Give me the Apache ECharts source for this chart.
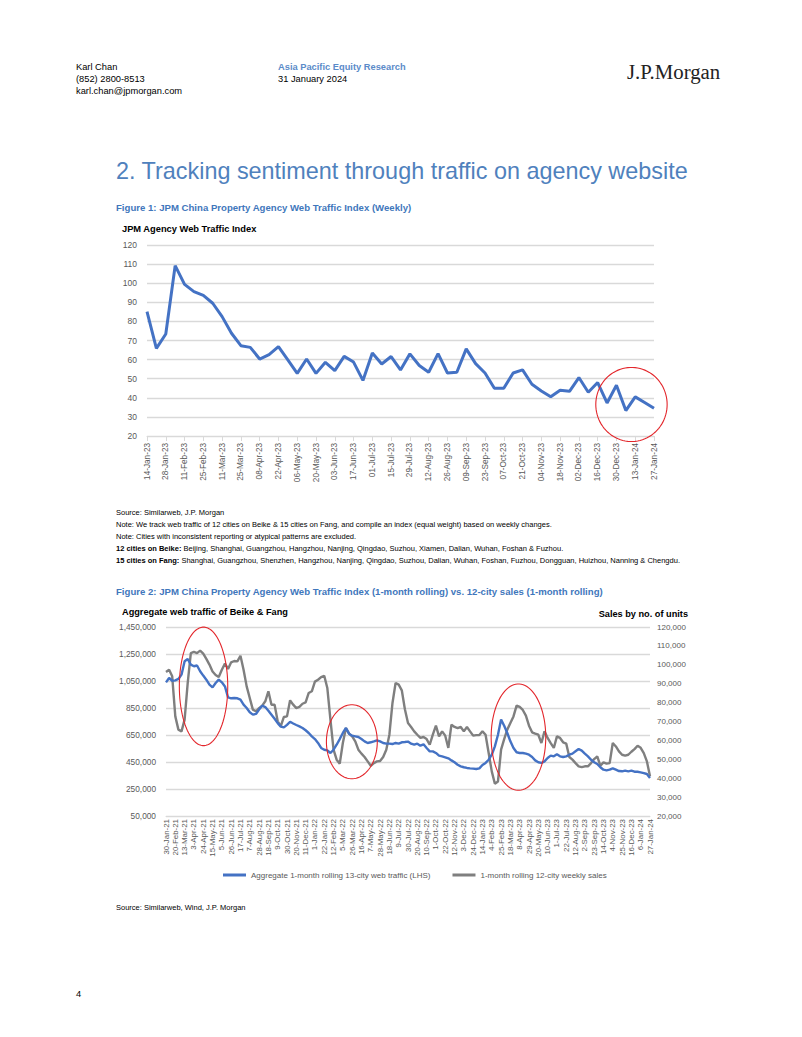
<!DOCTYPE html>
<html><head><meta charset="utf-8">
<script src="https://cdn.jsdelivr.net/npm/echarts/dist/echarts.min.js"></script>
<style>html,body{margin:0;padding:0;background:#fff}#c{width:802px;height:1037px}</style>
</head><body><div id="c"></div>
<script>
// ---------- Figure 1 data ----------
const fig1Dates = ("14-Jan-23,21-Jan-23,28-Jan-23,04-Feb-23,11-Feb-23,18-Feb-23,25-Feb-23,04-Mar-23,11-Mar-23,18-Mar-23," +
  "25-Mar-23,01-Apr-23,08-Apr-23,15-Apr-23,22-Apr-23,29-Apr-23,06-May-23,13-May-23,20-May-23,27-May-23," +
  "03-Jun-23,10-Jun-23,17-Jun-23,24-Jun-23,01-Jul-23,08-Jul-23,15-Jul-23,22-Jul-23,29-Jul-23,05-Aug-23," +
  "12-Aug-23,19-Aug-23,26-Aug-23,02-Sep-23,09-Sep-23,16-Sep-23,23-Sep-23,30-Sep-23,07-Oct-23,14-Oct-23," +
  "21-Oct-23,28-Oct-23,04-Nov-23,11-Nov-23,18-Nov-23,25-Nov-23,02-Dec-23,09-Dec-23,16-Dec-23,23-Dec-23," +
  "30-Dec-23,06-Jan-24,13-Jan-24,20-Jan-24,27-Jan-24").split(',');
const fig1Index = [85.1,65.9,73.4,109.2,99.4,95.6,93.6,89.5,82.5,73.8,
  67.3,66.4,60.3,62.6,66.8,59.8,52.8,60.3,52.8,58.6,
  54.2,61.7,58.7,49.1,63.5,57.7,61.6,54.6,63.0,56.9,
  53.4,63.1,53.0,53.4,65.6,57.9,53.0,45.0,45.0,53.0,
  54.6,47.1,43.6,40.5,44.0,43.4,50.6,42.9,48.0,37.3,
  46.6,33.3,40.5,37.5,34.5];
const fig1YTicks = {min: 20, max: 120, step: 10};

// ---------- Figure 2 data ----------
const fig2Dates = ("30-Jan-21,6-Feb-21,13-Feb-21,20-Feb-21,27-Feb-21,6-Mar-21,13-Mar-21,20-Mar-21,27-Mar-21,3-Apr-21," +
  "10-Apr-21,17-Apr-21,24-Apr-21,1-May-21,8-May-21,15-May-21,22-May-21,29-May-21,5-Jun-21,12-Jun-21," +
  "19-Jun-21,26-Jun-21,3-Jul-21,10-Jul-21,17-Jul-21,24-Jul-21,31-Jul-21,7-Aug-21,14-Aug-21,21-Aug-21," +
  "28-Aug-21,4-Sep-21,11-Sep-21,18-Sep-21,25-Sep-21,2-Oct-21,9-Oct-21,16-Oct-21,23-Oct-21,30-Oct-21," +
  "6-Nov-21,13-Nov-21,20-Nov-21,27-Nov-21,4-Dec-21,11-Dec-21,18-Dec-21,25-Dec-21," +
  "1-Jan-22,8-Jan-22,15-Jan-22,22-Jan-22,29-Jan-22,5-Feb-22,12-Feb-22,19-Feb-22,26-Feb-22,5-Mar-22," +
  "12-Mar-22,19-Mar-22,26-Mar-22,2-Apr-22,9-Apr-22,16-Apr-22,23-Apr-22,30-Apr-22,7-May-22,14-May-22," +
  "21-May-22,28-May-22,4-Jun-22,11-Jun-22,18-Jun-22,25-Jun-22,2-Jul-22,9-Jul-22,16-Jul-22,23-Jul-22," +
  "30-Jul-22,6-Aug-22,13-Aug-22,20-Aug-22,27-Aug-22,3-Sep-22,10-Sep-22,17-Sep-22,24-Sep-22,1-Oct-22," +
  "8-Oct-22,15-Oct-22,22-Oct-22,29-Oct-22,5-Nov-22,12-Nov-22,19-Nov-22,26-Nov-22,3-Dec-22,10-Dec-22," +
  "17-Dec-22,24-Dec-22,31-Dec-22," +
  "7-Jan-23,14-Jan-23,21-Jan-23,28-Jan-23,4-Feb-23,11-Feb-23,18-Feb-23,25-Feb-23,4-Mar-23,11-Mar-23," +
  "18-Mar-23,25-Mar-23,1-Apr-23,8-Apr-23,15-Apr-23,22-Apr-23,29-Apr-23,6-May-23,13-May-23,20-May-23," +
  "27-May-23,3-Jun-23,10-Jun-23,17-Jun-23,24-Jun-23,1-Jul-23,8-Jul-23,15-Jul-23,22-Jul-23,29-Jul-23," +
  "5-Aug-23,12-Aug-23,19-Aug-23,26-Aug-23,2-Sep-23,9-Sep-23,16-Sep-23,23-Sep-23,30-Sep-23,7-Oct-23," +
  "14-Oct-23,21-Oct-23,28-Oct-23,4-Nov-23,11-Nov-23,18-Nov-23,25-Nov-23,2-Dec-23,9-Dec-23,16-Dec-23," +
  "23-Dec-23,30-Dec-23,6-Jan-24,13-Jan-24,20-Jan-24,27-Jan-24").split(',');
// Aggregate 1-month rolling 13-city web traffic (LHS)
const fig2Traffic = [1040000,1072000,1052000,1055000,1065000,1097000,1196000,1213000,1171000,1159000,
  1165000,1122000,1090000,1060000,1023000,1003000,1035000,1060000,1040000,1010000,
  929000,922000,924000,922000,912000,875000,850000,818000,801000,806000,
  838000,867000,857000,830000,800000,770000,738000,712000,706000,725000,
  748000,735000,724000,714000,702000,685000,665000,640000,620000,591000,
  554000,541000,536000,517000,541000,578000,620000,665000,702000,660000,
  645000,640000,635000,620000,603000,591000,596000,603000,611000,603000,
  591000,586000,586000,583000,591000,586000,596000,598000,601000,586000,
  578000,586000,571000,581000,554000,529000,529000,517000,497000,492000,
  485000,477000,462000,448000,430000,418000,411000,406000,403000,401000,
  398000,403000,428000,443000,467000,504000,566000,652000,764000,719000,
  665000,603000,554000,522000,517000,517000,512000,504000,487000,462000,
  448000,443000,455000,480000,497000,492000,507000,492000,487000,492000,
  504000,512000,529000,546000,534000,512000,492000,467000,448000,435000,
  411000,393000,388000,393000,403000,393000,383000,381000,386000,381000,
  386000,378000,378000,373000,368000,361000,331000];
// 1-month rolling 12-city weekly sales (RHS)
const fig2Sales = [96200,97400,93900,72700,65700,64800,71000,90400,106200,106800,
  106200,107500,105900,103100,100100,96500,94600,93500,97400,100600,
  97800,101300,102000,101800,104800,97400,88600,82400,76300,75400,
  77100,78400,80700,86000,78900,78900,70100,67600,72400,72700,
  81200,78900,77100,77700,79400,80100,85100,86000,91100,92100,
  93500,94200,87700,71000,55100,49800,47700,58600,66500,63600,
  62100,59500,55100,53000,51200,48900,46600,48000,48900,49100,
  51200,55100,63000,79800,90400,89500,86500,76500,69200,67100,
  64800,63000,61300,61800,60700,57700,63000,67800,62100,64800,
  62500,56000,68300,67100,66500,67100,64800,67100,64800,62500,
  62800,62800,64800,63000,53300,43600,37100,38300,55100,60700,
  65700,69200,72700,78400,77700,76100,73100,67800,64300,63600,
  63000,58600,64800,61300,58600,56000,62100,61300,59000,58300,
  51200,49800,48000,46300,45900,46300,46300,48000,50100,51500,
  46600,48400,47700,48000,58600,56800,54200,52400,51900,52400,
  54000,55400,57200,56100,53300,48900,41000];
const fig2LeftTicks = {min: 50000, max: 1450000, step: 200000};
const fig2RightTicks = {min: 20000, max: 120000, step: 10000};
const fig2SeriesNames = ['Aggregate 1-month rolling 13-city web traffic (LHS)', '1-month rolling 12-city weekly sales'];

// Red highlight ellipses (data-space centre and radii)
const fig1Highlights = [{x: 51.6, y: 36.5, rx: 3.8, ry: 19.4}];
const fig2Highlights = [
  {x: 12.1, y: 1010000, rx: 7.8, ry: 439000},
  {x: 59.9, y: 600000, rx: 8.2, ry: 274000},
  {x: 113.6, y: 634000, rx: 8.8, ry: 394000}
];

// ---------- chart ----------
const FONT = '"Liberation Sans", Arial, sans-serif';
const BLUE = '#4472c4', GREY = '#7f7f7f', GRID = '#d9d9d9', LBL = '#595959';
const chart = echarts.init(document.getElementById('c'), null, {renderer: 'svg', width: 802, height: 1037});

const fmtThousands = v => v.toLocaleString('en-US');

const option = {
  backgroundColor: '#ffffff',
  animation: false,
  textStyle: {fontFamily: FONT},
  grid: [
    {left: 147, right: 148, top: 245, bottom: 601, containLabel: false},
    {left: 166, right: 152, top: 627, bottom: 221, containLabel: false}
  ],
  legend: {
    left: 218, top: 866, itemWidth: 23, itemHeight: 3, itemGap: 22, icon: 'rect',
    textStyle: {fontSize: 8, color: LBL, fontFamily: FONT},
    data: fig2SeriesNames
  },
  xAxis: [
    {type: 'category', gridIndex: 0, data: fig1Dates, boundaryGap: false,
     axisLine: {lineStyle: {color: GRID, width: 1}},
     axisTick: {show: true, interval: 1, length: 5, lineStyle: {color: GRID}},
     axisLabel: {interval: 1, rotate: 90, fontSize: 8.2, color: LBL, margin: 7, fontFamily: FONT},
     splitLine: {show: false}},
    {type: 'category', gridIndex: 1, data: fig2Dates, boundaryGap: false,
     axisLine: {lineStyle: {color: GRID, width: 1}},
     axisTick: {show: false},
     axisLabel: {interval: 2, rotate: 90, fontSize: 7.9, color: LBL, margin: 3, fontFamily: FONT},
     splitLine: {show: false}}
  ],
  yAxis: [
    {type: 'value', gridIndex: 0, min: fig1YTicks.min, max: fig1YTicks.max, interval: fig1YTicks.step,
     axisLine: {show: false}, axisTick: {show: false},
     axisLabel: {fontSize: 8.5, color: LBL, margin: 10, fontFamily: FONT},
     splitLine: {lineStyle: {color: GRID, width: 1.3}}},
    {type: 'value', gridIndex: 1, min: fig2LeftTicks.min, max: fig2LeftTicks.max, interval: fig2LeftTicks.step,
     axisLine: {show: false}, axisTick: {show: false},
     axisLabel: {fontSize: 8.3, color: LBL, margin: 10, fontFamily: FONT, formatter: fmtThousands},
     splitLine: {lineStyle: {color: GRID, width: 1.3}}},
    {type: 'value', gridIndex: 1, position: 'right', min: fig2RightTicks.min, max: fig2RightTicks.max, interval: fig2RightTicks.step,
     axisLine: {show: false}, axisTick: {show: false},
     axisLabel: {fontSize: 8, color: LBL, margin: 7, fontFamily: FONT, formatter: fmtThousands},
     splitLine: {show: false}}
  ],
  series: [
    {type: 'line', name: 'JPM Agency Web Traffic Index', xAxisIndex: 0, yAxisIndex: 0, data: fig1Index,
     showSymbol: false, symbol: 'none', lineStyle: {color: BLUE, width: 3}, itemStyle: {color: BLUE}},
    {type: 'line', name: fig2SeriesNames[0], xAxisIndex: 1, yAxisIndex: 1, data: fig2Traffic,
     showSymbol: false, symbol: 'none', lineStyle: {color: BLUE, width: 2.4}, itemStyle: {color: BLUE}},
    {type: 'line', name: fig2SeriesNames[1], xAxisIndex: 1, yAxisIndex: 2, data: fig2Sales,
     showSymbol: false, symbol: 'none', lineStyle: {color: GREY, width: 2.4}, itemStyle: {color: GREY}, z: 1}
  ]
};
chart.setOption(option);

// ---------- texts ----------
function txt(text, x, y, size, opts) {
  opts = opts || {};
  return {type: 'text', silent: true, z: 100,
    style: Object.assign({text: text, x: x, y: y, fill: opts.fill || '#000',
      font: (opts.weight || 'normal') + ' ' + size + 'px ' + (opts.family || FONT),
      textAlign: opts.align || 'left', textVerticalAlign: 'middle', verticalAlign: 'middle'}, opts.rich ? {rich: opts.rich} : {})};
}
const CAP = '#3f77bc';
const NOTE = 7.5;
const boldRich = {b: {fontWeight: 'bold', fontSize: NOTE, fontFamily: FONT}};
const texts = [
  txt('Karl Chan', 76, 67, 9.3),
  txt('(852) 2800-8513', 76, 79, 9.3),
  txt('karl.chan@jpmorgan.com', 76, 91, 9.3),
  txt('Asia Pacific Equity Research', 278, 67, 9.3, {weight: 'bold', fill: '#5b8bc9'}),
  txt('31 January 2024', 278, 79, 9.3),
  txt('J.P.Morgan', 627, 71, 20.8, {family: '"Liberation Serif", "Times New Roman", serif', fill: '#222'}),
  txt('2. Tracking sentiment through traffic on agency website', 116, 171, 23.4, {fill: '#4f81bd'}),
  txt('Figure 1: JPM China Property Agency Web Traffic Index (Weekly)', 116, 207, 9.6, {weight: 'bold', fill: CAP}),
  txt('JPM Agency Web Traffic Index', 122, 229, 9.3, {weight: 'bold'}),
  txt('Source: Similarweb, J.P. Morgan', 116, 512, NOTE),
  txt('Note: We track web traffic of 12 cities on Beike & 15 cities on Fang, and compile an index (equal weight) based on weekly changes.', 116, 524, NOTE),
  txt('Note: Cities with inconsistent reporting or atypical patterns are excluded.', 116, 536, NOTE),
  txt('{b|12 cities on Beike:} Beijing, Shanghai, Guangzhou, Hangzhou, Nanjing, Qingdao, Suzhou, Xiamen, Dalian, Wuhan, Foshan & Fuzhou.', 116, 548, NOTE, {rich: boldRich}),
  txt('{b|15 cities on Fang:} Shanghai, Guangzhou, Shenzhen, Hangzhou, Nanjing, Qingdao, Suzhou, Dalian, Wuhan, Foshan, Fuzhou, Dongguan, Huizhou, Nanning & Chengdu.', 116, 560, NOTE, {rich: boldRich}),
  txt('Figure 2: JPM China Property Agency Web Traffic Index (1-month rolling) vs. 12-city sales (1-month rolling)', 116, 591, 9.6, {weight: 'bold', fill: CAP}),
  txt('Aggregate web traffic of Beike & Fang', 122, 612, 9.2, {weight: 'bold'}),
  txt('Sales by no. of units', 688, 614, 9.2, {weight: 'bold', align: 'right'}),
  txt('Source: Similarweb, Wind, J.P. Morgan', 116, 907, NOTE),
  txt('4', 76, 994, 9.3)
];

// ---------- highlight ellipses ----------
function ellipse(xIdx, yIdx, h) {
  const finder = {xAxisIndex: xIdx, yAxisIndex: yIdx};
  const p0 = chart.convertToPixel(finder, [0, h.y]);
  const p1 = chart.convertToPixel(finder, [1, h.y]);
  const pr = chart.convertToPixel(finder, [0, h.y + h.ry]);
  const step = p1[0] - p0[0];
  const cx = p0[0] + h.x * step, cy = p0[1];
  const rx = h.rx * step, ry = Math.abs(p0[1] - pr[1]);
  const pts = [];
  for (let i = 0; i < 90; i++) {
    const a = i / 90 * Math.PI * 2;
    pts.push([cx + rx * Math.cos(a), cy + ry * Math.sin(a)]);
  }
  return {type: 'polygon', silent: true, z: 90, shape: {points: pts},
    style: {fill: 'none', stroke: '#e3262b', lineWidth: 1.1}};
}
const shapes = fig1Highlights.map(h => ellipse(0, 0, h))
  .concat(fig2Highlights.map(h => ellipse(1, 1, h)));

chart.setOption({graphic: {elements: texts.concat(shapes)}});
</script>
</body></html>
